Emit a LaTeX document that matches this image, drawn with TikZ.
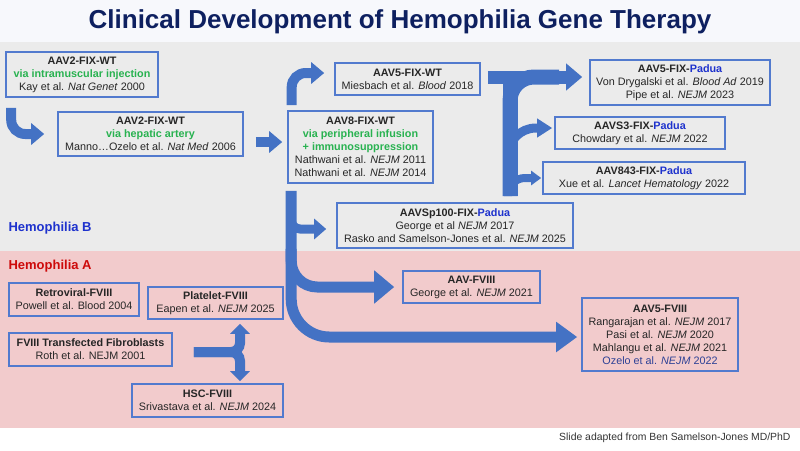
\documentclass[tikz,border=0pt]{standalone}
\usepackage{fontspec}
\setmainfont{Liberation Sans}
\usepackage{xcolor}
\usepackage{tikz}
\usetikzlibrary{arrows.meta, positioning, calc}
\definecolor{arrowblue}{RGB}{68, 114, 196}
\definecolor{boxblue}{RGB}{82, 122, 206}
\definecolor{viagreen}{RGB}{40, 178, 80}
\definecolor{paduablue}{RGB}{30, 50, 205}
\definecolor{hemored}{RGB}{205, 10, 10}
\definecolor{titlenavy}{RGB}{14, 32, 96}
\definecolor{bandgray}{RGB}{235, 235, 235}
\definecolor{bandpink}{RGB}{242, 203, 204}
\definecolor{bandtop}{RGB}{247, 248, 252}
\definecolor{ozeloblue}{RGB}{45, 65, 150}

\begin{document}
\begin{tikzpicture}[
        x=1pt, y=-1pt,
        paper/.style={draw=boxblue, line width=1.6pt, align=center, inner sep=2pt, text=black!85, font=\fontsize{10.8}{13}\selectfont},
        fat/.style={draw=arrowblue, line width=10pt, -{Triangle[length=13pt,width=21pt]}},
        band/.style={font=\fontsize{13}{15}\selectfont\bfseries, anchor=west}
    ]
        \fill[bandtop] (0,0) rectangle (800,42);
        \fill[bandgray] (0,42) rectangle (800,251);
        \fill[bandpink] (0,251) rectangle (800,428);
        \fill[white] (0,428) rectangle (800,450);
        \useasboundingbox (0,0) rectangle (800,450);

        \node[font=\fontsize{26}{30}\selectfont\bfseries, text=titlenavy] (title) at (400,22) {Clinical Development of Hemophilia Gene Therapy};

        \node[paper, minimum width=152pt, minimum height=45pt] (kay) at (82,74.5) {\textbf{AAV2-FIX-WT}\\\textcolor{viagreen}{\textbf{via intramuscular injection}}\\Kay et al. \textit{Nat Genet} 2000};
        \node[paper, minimum width=185pt, minimum height=44pt] (manno) at (150.5,134) {\textbf{AAV2-FIX-WT}\\\textcolor{viagreen}{\textbf{via hepatic artery}}\\Manno…Ozelo et al. \textit{Nat Med} 2006};
        \node[paper, minimum width=145pt, minimum height=72pt] (nathwani) at (360.5,147) {\textbf{AAV8-FIX-WT}\\\textcolor{viagreen}{\textbf{via peripheral infusion}}\\\textcolor{viagreen}{\textbf{+ immunosuppression}}\\Nathwani et al. \textit{NEJM} 2011\\Nathwani et al. \textit{NEJM} 2014};
        \node[paper, minimum width=145pt, minimum height=32pt] (miesbach) at (407.5,79) {\textbf{AAV5-FIX-WT}\\Miesbach et al. \textit{Blood} 2018};
        \node[paper, minimum width=180pt, minimum height=45pt] (vondry) at (680,82.5) {\textbf{AAV5-FIX-\textcolor{paduablue}{Padua}}\\Von Drygalski et al. \textit{Blood Ad} 2019\\Pipe et al. \textit{NEJM} 2023};
        \node[paper, minimum width=170pt, minimum height=32pt] (chowdary) at (640,133) {\textbf{AAVS3-FIX-\textcolor{paduablue}{Padua}}\\Chowdary et al. \textit{NEJM} 2022};
        \node[paper, minimum width=202pt, minimum height=32pt] (xue) at (644,178) {\textbf{AAV843-FIX-\textcolor{paduablue}{Padua}}\\Xue et al. \textit{Lancet Hematology} 2022};
        \node[paper, minimum width=236pt, minimum height=45pt] (george17) at (455,225.5) {\textbf{AAVSp100-FIX-\textcolor{paduablue}{Padua}}\\George et al \textit{NEJM} 2017\\Rasko and Samelson-Jones et al. \textit{NEJM} 2025};
        \node[paper, minimum width=137pt, minimum height=32pt] (george21) at (471.5,287) {\textbf{AAV-FVIII}\\George et al. \textit{NEJM} 2021};
        \node[paper, minimum width=156pt, minimum height=73pt] (rangarajan) at (660,334.5) {\textbf{AAV5-FVIII}\\Rangarajan et al. \textit{NEJM} 2017\\Pasi et al. \textit{NEJM} 2020\\Mahlangu et al. \textit{NEJM} 2021\\\textcolor{ozeloblue}{Ozelo et al. \textit{NEJM} 2022}};
        \node[paper, minimum width=130pt, minimum height=33pt] (powell) at (74,299.5) {\textbf{Retroviral-FVIII}\\Powell et al. Blood 2004};
        \node[paper, minimum width=135pt, minimum height=32pt] (eapen) at (215.5,303) {\textbf{Platelet-FVIII}\\Eapen et al. \textit{NEJM} 2025};
        \node[paper, minimum width=163pt, minimum height=33pt] (roth) at (90.5,349.5) {\textbf{FVIII Transfected Fibroblasts}\\Roth et al. NEJM 2001};
        \node[paper, minimum width=151pt, minimum height=33pt] (srivastava) at (207.5,400.5) {\textbf{HSC-FVIII}\\Srivastava et al. \textit{NEJM} 2024};

        \node[band, text=paduablue] (hemob) at (5,228) {Hemophilia B};
        \node[band, text=hemored] (hemoa) at (5,266) {Hemophilia A};
        \node[anchor=east, font=\fontsize{10.4}{12}\selectfont, text=black!80] (credit) at (794,438) {Slide adapted from Ben Samelson-Jones MD/PhD};

        \coordinate (fork) at ($(george17.north)+(55,-6)$);
        \coordinate (split) at ($(roth.east)+(21,2.5)$);

        \draw[fat, rounded corners=14pt] ($(kay.south west)+(6,10)$) |- ($(manno.west)+(-13,0)$);
        \draw[fat] ($(manno.east)+(12,8)$) -- ($(nathwani.west)+(-5,-5)$);
        \draw[fat, rounded corners=14pt] ($(nathwani.north west)+(4.5,-5)$) |- ($(miesbach.west)+(-10,-6)$);

        \draw[draw=arrowblue, line width=15pt] (fork) -- ($(fork)+(0,-115)$);
        \draw[draw=arrowblue, line width=15pt, rounded corners=24pt] (fork) |- ($(vondry.west)+(-30,-5.5)$);
        \draw[fat, line width=13pt, -{Triangle[length=16pt,width=26pt]}] ($(miesbach.east)+(7,-2)$) -- ($(vondry.west)+(-7,-5.5)$);
        \draw[fat, line width=9pt, -{Triangle[length=15pt,width=18pt]}, rounded corners=28pt] ($(fork)+(-2,-32)$) |- ($(chowdary.west)+(-2,-5)$);
        \draw[fat, line width=8pt, -{Triangle[length=10pt,width=14pt]}, rounded corners=17pt] ($(fork)+(-2,0)$) |- ($(xue.west)+(-1,0)$);

        \draw[fat, line width=11pt, -{Triangle[length=21pt,width=29pt]}, rounded corners=38pt] ($(nathwani.south west)+(4,7)$) |- ($(rangarajan.west)+(-4,2.5)$);
        \draw[fat, line width=9pt, -{Triangle[length=12pt,width=20pt]}, rounded corners=9pt] ($(nathwani.south west)+(4,32)$) |- ($(george17.west)+(-10,3.5)$);
        \draw[fat, line width=11pt, -{Triangle[length=20pt,width=32pt]}, rounded corners=26pt] ($(nathwani.south west)+(4,65)$) |- ($(george21.west)+(-8,0)$);

        \draw[fat, -{Triangle[length=10pt,width=19pt]}, rounded corners=9pt] (split) -| ($(eapen.south)+(24.5,4)$);
        \draw[fat, -{Triangle[length=10pt,width=19pt]}, rounded corners=9pt] (split) -| ($(srivastava.north)+(32.5,-2)$);
    \end{tikzpicture}
\end{document}
